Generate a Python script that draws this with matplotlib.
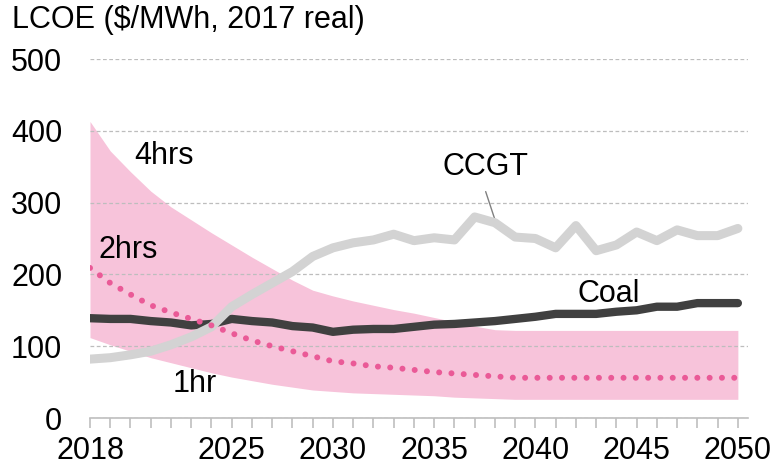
import matplotlib
matplotlib.use("Agg")
import matplotlib.pyplot as plt
import numpy as np

plt.rcParams["font.family"] = ["Liberation Sans", "DejaVu Sans"]

years = np.arange(2018, 2051)

# storage LCOE band: 4hrs (upper) and 1hr (lower), 2hrs dotted
hrs4 = [413, 372, 343, 316, 294, 276, 258, 241, 224, 208, 192, 178, 170, 163,
        157, 151, 146, 140, 134, 128, 123, 122, 122, 122, 122, 122, 122, 122,
        122, 122, 122, 122, 122]
hrs1 = [112, 102, 93, 84, 77, 70, 63, 57, 52, 47, 43, 39, 37, 35, 34, 33, 32,
        31, 29, 28, 27, 26, 26, 26, 26, 26, 26, 26, 26, 26, 26, 26, 26]
hrs2 = [209, 188, 172, 157, 147, 138, 129, 118, 108, 100, 93, 86, 79, 76, 72,
        70, 67, 64, 62, 60, 58, 56, 56, 56, 56, 56, 56, 56, 56, 56, 56, 56, 56]

ccgt = [82, 84, 88, 93, 102, 113, 127, 155, 172, 188, 204, 225, 237, 244, 248,
        256, 247, 251, 248, 280, 272, 252, 250, 237, 268, 233, 241, 259, 247,
        262, 254, 254, 264]
coal = [139, 138, 138, 135, 133, 129, 131, 138, 135, 133, 128, 126, 120, 123,
        124, 124, 127, 130, 131, 133, 135, 138, 141, 145, 145, 145, 148, 150,
        155, 155, 160, 160, 160]

label_years = [2018, 2025, 2030, 2035, 2040, 2045, 2050]
y_ticks = [0, 100, 200, 300, 400, 500]

fs = 22
fig = plt.figure(figsize=(7.75, 4.69), dpi=100)
W, H = 775, 469
ax = fig.add_axes([90 / W, (H - 418) / H, (748 - 90) / W, (418 - 59) / H])

ax.fill_between(years, hrs1, hrs4, color="#F7C3DA", linewidth=0, zorder=1)
ax.yaxis.grid(True, color="#BDBDBD", linestyle=(0, (3, 2)), linewidth=0.9, zorder=2)
ax.set_axisbelow(False)
ax.plot(years, coal, color="#404040", linewidth=6, solid_capstyle="round", zorder=3)
ax.plot(years, ccgt, color="#D3D3D3", linewidth=6.5, solid_capstyle="round", zorder=4)
ax.plot(years, hrs2, color="#EA5A97", linewidth=4.3, linestyle=(0, (0.01, 2.05)),
        dash_capstyle="round", zorder=5)

ax.set_xlim(2018, 2050.5)
ax.set_ylim(0, 500)
for s in ["left", "right", "top"]:
    ax.spines[s].set_visible(False)
ax.spines["bottom"].set_color("#BFBFBF")
ax.spines["bottom"].set_linewidth(1.2)

ax.set_xticks(label_years)
ax.set_xticks(years, minor=True)
ax.tick_params(axis="x", which="both", length=7, width=1.2, color="#BFBFBF",
               labelsize=fs, pad=6)
ax.set_yticks(y_ticks)
ax.tick_params(axis="y", length=0, labelsize=fs, pad=20)

fig.text(12 / W, 1 - 20 / H, "LCOE ($/MWh, 2017 real)", fontsize=fs,
         ha="left", va="center")

ax.text(2020.2, 365, "4hrs", fontsize=fs, ha="left", va="center")
ax.text(2018.4, 234, "2hrs", fontsize=fs, ha="left", va="center")
ax.text(2022.1, 48, "1hr", fontsize=fs, ha="left", va="center")
ax.text(2035.4, 350, "CCGT", fontsize=fs, ha="left", va="center")
ax.text(2042.1, 173, "Coal", fontsize=fs, ha="left", va="center")
ax.annotate("", xy=(2038.05, 272), xytext=(2037.5, 319),
            arrowprops=dict(arrowstyle="-", color="#808080", linewidth=1))

fig.savefig("out.png", dpi=100)
